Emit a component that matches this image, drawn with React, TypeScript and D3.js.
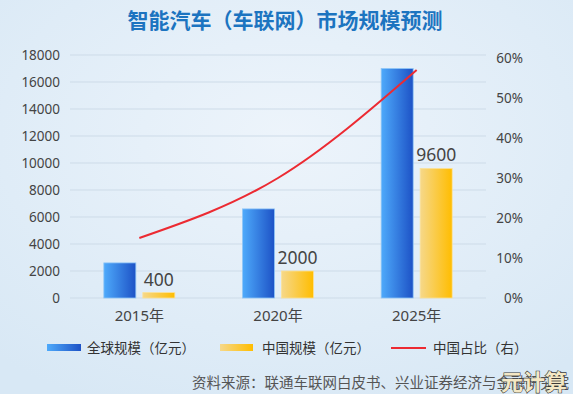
import * as d3 from "d3";
import React from "react";

const W = 573;
const H = 394;

const years = ["2015年", "2020年", "2025年"];
const globalSize = [2600, 6600, 17000];
const chinaSize = [400, 2000, 9600];
const chinaShare = [15, 30, 57];
const leftTicks = [0, 2000, 4000, 6000, 8000, 10000, 12000, 14000, 16000, 18000];
const rightTicks = [0, 10, 20, 30, 40, 50, 60];
const seriesNames = ["全球规模（亿元）", "中国规模（亿元）", "中国占比（右）"];

const FONT = "'Noto Sans', 'Noto Sans CJK SC', sans-serif";

export default function App() {
  const x0 = d3.scaleBand<string>().domain(years).range([70, 486]);
  const x1 = d3
    .scaleBand<string>()
    .domain(["g", "c"])
    .range([-35.5, 35.5])
    .paddingInner(0.179);
  const yL = d3.scaleLinear().domain([0, 18000]).range([298, 55]);
  const yR = d3.scaleLinear().domain([0, 60]).range([298, 58]);

  const cx = (y: string) => (x0(y) ?? 0) + x0.bandwidth() / 2;

  const line = d3
    .line<number>()
    .x((_, i) => cx(years[i]))
    .y((d) => yR(d))
    .curve(d3.curveMonotoneX);

  const bw = x1.bandwidth();

  return (
    <svg
      width={W}
      height={H}
      style={{ position: "absolute", left: 0, top: 0, display: "block" }}
      fontFamily={FONT}
    >
      <defs>
        <radialGradient id="bg" cx="50%" cy="35%" r="75%">
          <stop offset="0%" stopColor="#edf4fb" />
          <stop offset="100%" stopColor="#d8e8f5" />
        </radialGradient>
        <linearGradient id="blueG" x1="0%" x2="100%">
          <stop offset="0%" stopColor="#4eaafb" />
          <stop offset="100%" stopColor="#1d52c6" />
        </linearGradient>
        <linearGradient id="yelG" x1="0%" x2="100%">
          <stop offset="0%" stopColor="#f6d88a" />
          <stop offset="100%" stopColor="#ffbd00" />
        </linearGradient>
      </defs>
      <rect width={W} height={H} fill="url(#bg)" />

      {/* title */}
      <text
        x={285}
        y={28}
        textAnchor="middle"
        fontSize={21}
        fontWeight="bold"
        fill="#1c74c0"
        fontFamily="'Noto Sans CJK SC', sans-serif"
      >
        智能汽车（车联网）市场规模预测
      </text>

      {/* grid */}
      {leftTicks.map((t) => (
        <line
          key={t}
          x1={70}
          x2={486}
          y1={yL(t)}
          y2={yL(t)}
          stroke="#cddbe8"
          strokeWidth={1}
        />
      ))}

      {/* left axis */}
      {leftTicks.map((t) => (
        <text
          key={t}
          x={60}
          y={yL(t)}
          dy="0.35em"
          textAnchor="end"
          fontSize={13.5}
          fill="#444"
        >
          {t}
        </text>
      ))}

      {/* right axis */}
      {rightTicks.map((t) => (
        <text
          key={t}
          x={523}
          y={yR(t)}
          dy="0.35em"
          textAnchor="end"
          fontSize={13.5}
          fill="#444"
        >
          {t}%
        </text>
      ))}

      {/* bars */}
      {years.map((yr, i) => {
        const c = cx(yr);
        const gx = c + (x1("g") ?? 0);
        const chx = c + (x1("c") ?? 0);
        return (
          <g key={yr}>
            <rect
              x={gx}
              y={yL(globalSize[i])}
              width={bw}
              height={yL(0) - yL(globalSize[i])}
              fill="url(#blueG)"
              stroke="#8fc6f7"
              strokeWidth={0.8}
            />
            <rect
              x={chx}
              y={yL(chinaSize[i])}
              width={bw}
              height={yL(0) - yL(chinaSize[i])}
              fill="url(#yelG)"
              stroke="#fbe29a"
              strokeWidth={0.8}
            />
            <text
              x={chx + bw / 2}
              y={yL(chinaSize[i]) - 7}
              textAnchor="middle"
              fontSize={17.5}
              fill="#444"
            >
              {chinaSize[i]}
            </text>
            <text
              x={c}
              y={316}
              dy="0.35em"
              textAnchor="middle"
              fontSize={15}
              fill="#444"
            >
              {yr}
            </text>
          </g>
        );
      })}

      {/* share line */}
      <path d={line(chinaShare) ?? ""} fill="none" stroke="#ec2a32" strokeWidth={2} />

      {/* legend */}
      <g fontSize={13.5} fill="#333">
        <rect x={47} y={344} width={34} height={7} fill="url(#blueG)" />
        <text x={87} y={348} dy="0.35em">{seriesNames[0]}</text>
        <rect x={220} y={344} width={33} height={7} fill="url(#yelG)" />
        <text x={262} y={348} dy="0.35em">{seriesNames[1]}</text>
        <line x1={391} x2={426} y1={348} y2={348} stroke="#ec2a32" strokeWidth={2} />
        <text x={433} y={348} dy="0.35em">{seriesNames[2]}</text>
      </g>

      {/* source */}
      <text x={192} y={383} dy="0.35em" fontSize={14.5} fill="#555">
        资料来源：联通车联网白皮书、兴业证券经济与金融研究院
      </text>

      {/* watermark */}
      <text
        x={534}
        y={382}
        dy="0.35em"
        textAnchor="middle"
        fontSize={22}
        fontWeight="bold"
        fill="#f4e7c4"
        stroke="#3a3a3a"
        strokeWidth={1.2}
        paintOrder="stroke"
        fontFamily="'Noto Sans CJK SC', sans-serif"
      >
        元计算
      </text>
    </svg>
  );
}
